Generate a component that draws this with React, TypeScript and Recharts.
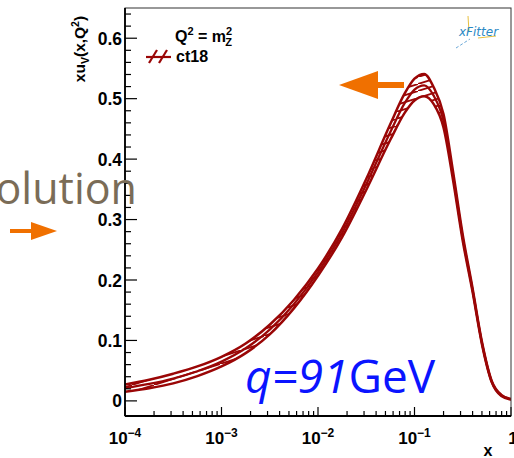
import React from "react";
import { ComposedChart, Area, Line, XAxis, YAxis } from "recharts";

// xu_v(x, Q^2) at Q^2 = m_Z^2, CT18 central value and uncertainty band
const X_VALUES = [
  1e-4, 1.78e-4, 3.16e-4, 5.62e-4, 1e-3, 1.78e-3, 3.16e-3, 5.62e-3, 1e-2, 1.78e-2,
  3.16e-2, 5.62e-2, 7.94e-2, 0.1, 0.126, 0.158, 0.2, 0.251, 0.316, 0.398, 0.501, 0.631, 0.794, 1,
];
const CENTRAL = [
  0.021, 0.028, 0.037, 0.049, 0.065, 0.087, 0.118, 0.16, 0.213, 0.278,
  0.358, 0.445, 0.493, 0.515, 0.522, 0.505, 0.463, 0.372, 0.27, 0.185, 0.095, 0.032, 0.009, 0.003,
];
const UPPER = [
  0.027, 0.035, 0.045, 0.057, 0.073, 0.095, 0.126, 0.167, 0.219, 0.285,
  0.367, 0.458, 0.509, 0.533, 0.541, 0.519, 0.474, 0.379, 0.275, 0.188, 0.097, 0.033, 0.01, 0.003,
];
const LOWER = [
  0.015, 0.021, 0.029, 0.041, 0.057, 0.079, 0.11, 0.153, 0.207, 0.271,
  0.349, 0.432, 0.477, 0.497, 0.504, 0.491, 0.452, 0.365, 0.265, 0.182, 0.093, 0.031, 0.008, 0.002,
];

const DECADES = [-4, -3, -2, -1, 0];
const MULTIPLIERS = [1, 2, 3, 4, 5, 6, 7, 8, 9];
const Y_MAJOR = [0, 0.1, 0.2, 0.3, 0.4, 0.5, 0.6];
const Y_MINOR_STEP = 0.02;

const rows = X_VALUES.map((x, i) => ({
  x,
  central: CENTRAL[i],
  upper: UPPER[i],
  lower: LOWER[i],
  band: [LOWER[i], UPPER[i]],
}));

const X_TICKS: number[] = [];
DECADES.forEach((d) =>
  MULTIPLIERS.forEach((m) => {
    const v = m * Math.pow(10, d);
    if (v <= 1) X_TICKS.push(v);
  })
);

const Y_TICKS: number[] = [];
for (let i = 0; i * Y_MINOR_STEP <= 0.645; i++) Y_TICKS.push(+(i * Y_MINOR_STEP).toFixed(2));

const W = 514;
const H = 458;
const PLOT_LEFT = 125;
const PLOT_RIGHT = 511;
const PLOT_TOP = 8;
const PLOT_BOTTOM = 416;

const RED = "#9a0606";
const ORANGE = "#f07000";
const AXIS_FONT = "'Liberation Sans', Arial, sans-serif";

const YTick = (props: any) => {
  const v = props.payload.value;
  const major = Y_MAJOR.some((m) => Math.abs(m - v) < 1e-6);
  const y = props.y;
  return (
    <g>
      <line x1={PLOT_LEFT} x2={PLOT_LEFT + (major ? 12 : 6)} y1={y} y2={y} stroke="#000" strokeWidth={1.2} />
      {major && (
        <text x={PLOT_LEFT - 3} y={y + 6.5} textAnchor="end" fontFamily={AXIS_FONT} fontWeight="bold" fontSize={17.5} fill="#000">
          {v === 0 ? "0" : v.toFixed(1)}
        </text>
      )}
    </g>
  );
};

const XTick = (props: any) => {
  const v = props.payload.value;
  const lg = Math.log10(v);
  const major = Math.abs(lg - Math.round(lg)) < 1e-6;
  const x = props.x;
  return (
    <g>
      <line x1={x} x2={x} y1={PLOT_BOTTOM} y2={PLOT_BOTTOM - (major ? 9 : 5)} stroke="#000" strokeWidth={1.2} />
      {major &&
        (Math.round(lg) === 0 ? (
          <text x={x + 2} y={444} textAnchor="middle" fontFamily={AXIS_FONT} fontWeight="bold" fontSize={17} fill="#000">
            1
          </text>
        ) : (
          <text x={x} y={444} textAnchor="middle" fontFamily={AXIS_FONT} fontWeight="bold" fontSize={17} fill="#000">
            10
            <tspan dy={-7} fontSize={12}>
              {"\u2212" + Math.abs(Math.round(lg))}
            </tspan>
          </text>
        ))}
    </g>
  );
};

export default function App() {
  return (
    <div style={{ position: "absolute", left: 0, top: 0, width: W, height: H, background: "#fff" }}>
      <svg width={0} height={0} style={{ position: "absolute" }}>
        <defs>
          <pattern id="hatch" patternUnits="userSpaceOnUse" width={22} height={7}>
            <line x1={-1} y1={7.3} x2={23} y2={-0.3} stroke={RED} strokeWidth={1.8} />
          </pattern>
        </defs>
      </svg>
      <ComposedChart
        width={W}
        height={H}
        data={rows}
        margin={{ top: PLOT_TOP, right: W - PLOT_RIGHT, left: PLOT_LEFT - 60, bottom: H - PLOT_BOTTOM - 30 }}
      >
        <XAxis
          dataKey="x"
          type="number"
          scale="log"
          domain={[1e-4, 1]}
          ticks={X_TICKS}
          allowDataOverflow
          axisLine={false}
          tickLine={false}
          tickSize={0}
          tickMargin={0}
          height={30}
          interval={0}
          tick={<XTick />}
        />
        <YAxis
          type="number"
          domain={[-0.025, 0.65]}
          ticks={Y_TICKS}
          allowDataOverflow
          axisLine={false}
          tickLine={false}
          tickSize={0}
          tickMargin={0}
          width={60}
          interval={0}
          tick={<YTick />}
        />
        <Area dataKey="band" type="monotone" stroke="none" fill="url(#hatch)" fillOpacity={1} isAnimationActive={false} />
        <Line dataKey="upper" type="monotone" stroke={RED} strokeWidth={2.5} dot={false} isAnimationActive={false} />
        <Line dataKey="lower" type="monotone" stroke={RED} strokeWidth={2.5} dot={false} isAnimationActive={false} />
        <Line dataKey="central" type="monotone" stroke={RED} strokeWidth={2.3} dot={false} isAnimationActive={false} />
      </ComposedChart>

      <svg width={W} height={H} style={{ position: "absolute", left: 0, top: 0, pointerEvents: "none" }}>
        {/* frame */}
        <rect x={PLOT_LEFT} y={PLOT_TOP} width={PLOT_RIGHT - PLOT_LEFT} height={PLOT_BOTTOM - PLOT_TOP} fill="none" stroke="#333" strokeWidth={1} />
        <line x1={PLOT_LEFT} x2={PLOT_LEFT} y1={PLOT_TOP} y2={PLOT_BOTTOM} stroke="#000" strokeWidth={1.8} />
        <line x1={PLOT_LEFT} x2={PLOT_RIGHT} y1={PLOT_BOTTOM} y2={PLOT_BOTTOM} stroke="#000" strokeWidth={1.8} />

        {/* axis titles */}
        <text x={488} y={456} textAnchor="middle" fontFamily={AXIS_FONT} fontWeight="bold" fontSize={16}>
          x
        </text>
        <text transform="translate(85,49) rotate(-90)" textAnchor="middle" fontFamily={AXIS_FONT} fontWeight="bold" fontSize={15.5}>
          xu
          <tspan dy={4} fontSize={10.5}>V</tspan>
          <tspan dy={-4}>(x,Q</tspan>
          <tspan dy={-6} fontSize={10.5}>2</tspan>
          <tspan dy={6}>)</tspan>
        </text>

        {/* legend */}
        <text x={175} y={42} fontFamily={AXIS_FONT} fontWeight="bold" fontSize={16}>
          Q<tspan dy={-7} fontSize={11}>2</tspan>
          <tspan dy={7}> = m</tspan>
          <tspan dy={-7} fontSize={11}>2</tspan>
          <tspan dx={-7} dy={11} fontSize={11}>Z</tspan>
        </text>
        <line x1={146} x2={171} y1={57} y2={57} stroke={RED} strokeWidth={2.2} />
        <line x1={149} x2={157} y1={63} y2={50} stroke={RED} strokeWidth={2.2} />
        <line x1={159} x2={167} y1={63} y2={50} stroke={RED} strokeWidth={2.2} />
        <text x={176} y={62} fontFamily={AXIS_FONT} fontWeight="bold" fontSize={16}>
          ct18
        </text>

        {/* xFitter logo */}
        <line x1={468} x2={469} y1={16} y2={32} stroke="#e8c040" strokeWidth={1} />
        <line x1={478} x2={496} y1={38} y2={36} stroke="#e8c040" strokeWidth={1} />
        <line x1={456} x2={470} y1={48} y2={39} stroke="#6aa8d8" strokeWidth={1} strokeDasharray="3 2" />
        <text x={459} y={36} fontFamily="'DejaVu Sans', sans-serif" fontStyle="italic" fontSize={12} fill="#2a88c4">
          xFitter
        </text>

        {/* annotations */}
        <text x={137} y={204} textAnchor="end" fontFamily="'Open Sans', sans-serif" fontSize={43} fill="#7a6c57">
          Evolution
        </text>
        <line x1={10} x2={33} y1={231} y2={231} stroke={ORANGE} strokeWidth={4} />
        <polygon points="31,222 57,231 31,240" fill={ORANGE} />
        <line x1={376} x2={404} y1={85} y2={85} stroke={ORANGE} strokeWidth={6} />
        <polygon points="339,85 378,71 378,99" fill={ORANGE} />
        <text x={245} y={393} fontFamily="'Open Sans', sans-serif" fontSize={46} fill="#0a14ff">
          <tspan fontStyle="italic">q=91</tspan>GeV
        </text>
      </svg>
    </div>
  );
}
